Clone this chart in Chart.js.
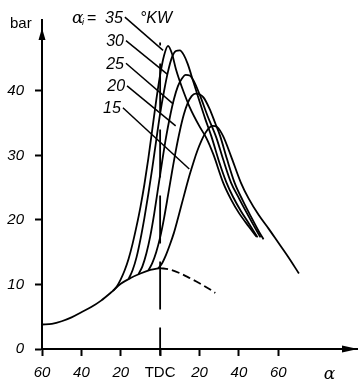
<!DOCTYPE html>
<html><head><meta charset="utf-8">
<script src="https://cdn.jsdelivr.net/npm/chart.js@4.4.1/dist/chart.umd.min.js"></script>
<style>html,body{margin:0;padding:0;background:#fff}canvas{display:block}</style>
</head><body>
<canvas id="c" width="360" height="388"></canvas>
<script>
// crank angle (deg, TDC = 0) vs cylinder pressure (bar)
const motoredSolid = [[-60,3.8],[-55,3.9],[-50,4.3],[-45,4.9],[-40,5.7],[-35,6.5],[-30,7.5],[-25,8.75],[-20,10.1],[-15,11.0],[-10,11.7],[-5,12.25],[0,12.55]];
const motoredDashed = [[0,12.55],[5,12.3],[10,11.75],[15,11.0],[20,10.2],[25,9.3],[28,8.7]];
const ign35 = [[-24,9.0],[-22,9.7],[-20,10.8],[-18,12.2],[-16,14.0],[-14,16.3],[-12,19.0],[-10,22.0],[-8,25.5],[-6,29.5],[-4,34],[-2,38.5],[0,42.5],[2,45.5],[4,47.0],[6,45.8],[8,43.4],[10,41.5],[12,39.8],[15,37.5],[20,34.5],[23.5,32.7],[27,30.2],[32,25.8],[36,23.2],[40,21.1],[45,19.0],[49,17.4]];
const ign30 = [[-16,10.85],[-14,12.2],[-12,14.2],[-10,17],[-8,20.3],[-6,24],[-4,28],[-2,32.3],[0,36.5],[2,40],[4,43],[6,45.2],[8,46.2],[10,46.3],[12,45.6],[14,44.2],[17,41.3],[20,38.4],[23,35.6],[26,33.0],[30,29],[33.7,25.8],[37,23.6],[41,21.4],[45,19.5],[49.5,17.3]];
const ign25 = [[-11,11.6],[-9,12.8],[-7,14.8],[-5,17.5],[-3,21],[-1,25],[1,29],[3,32.8],[5,36],[7,38.7],[9,40.7],[11,41.9],[13,42.5],[15,42.4],[17,41.6],[20,39.5],[24,36.2],[28.5,32.8],[32,29.4],[36,25.8],[40,23.4],[44,21.1],[48,18.9],[51,17.3]];
const ign20 = [[-6,12.15],[-4,13.3],[-2,15],[0,17.3],[2,20.3],[4,23.8],[6,27.4],[8,30.8],[10,33.8],[12,36.3],[14,38.1],[16,39.2],[18,39.6],[20,39.5],[22,39.0],[25,37.3],[28,35.0],[30.5,33.0],[34,29.4],[37.8,25.8],[42,23.0],[46,20.6],[50,18.3],[52.5,17.0]];
const ign15 = [[-1,12.5],[1,13.3],[3,14.6],[5,16.2],[7,18],[9,20.2],[11,22.5],[13,24.8],[15,27],[17,29],[19,30.8],[21,32.3],[23,33.5],[25,34.3],[26.5,34.6],[29,34.4],[32,33.0],[36,29.9],[41,25.8],[45,23.3],[50,20.8],[55,18.7],[60,16.5],[65,14.3],[70.5,11.7]];
const tdcLine = [[0,47.5],[0,-1]];
const ignitionLabels = ['35','30','25','20','15'];
const leaderStart = [[-17.9,51.45],[-17.35,47.8],[-17.35,44.3],[-16.8,40.8],[-18.9,37.4]];
const leaderEnd = [[1.5,46.3],[3.6,42.6],[6.6,38.0],[7.9,34.6],[14.8,27.9]];
const xTickValues = [-60,-40,-20,0,20,40,60,86];
const xTickLabels = ['60','40','20','TDC','20','40','60','α'];
const yTickValues = [0,10,20,30,40];

const pts = a => a.map(([x,y]) => ({x,y}));
const curve = (data, extra) => Object.assign({
  data: pts(data), borderColor:'#000', borderWidth:1.8, pointRadius:0,
  cubicInterpolationMode:'monotone', fill:false
}, extra||{});

const annot = {
  id:'annot',
  afterDatasetsDraw(chart){
    const {ctx, chartArea:a, scales:{x,y}} = chart;
    ctx.save();
    ctx.fillStyle='#000'; ctx.strokeStyle='#000';
    // axis arrows
    const y0 = y.getPixelForValue(0);
    ctx.beginPath(); ctx.moveTo(a.right+1,y0); ctx.lineTo(a.right-15,y0-3.5); ctx.lineTo(a.right-15,y0+3.5); ctx.closePath(); ctx.fill();
    ctx.beginPath(); ctx.moveTo(a.left,a.top+8); ctx.lineTo(a.left-3.5,a.top+20); ctx.lineTo(a.left+3.5,a.top+20); ctx.closePath(); ctx.fill();
    // unit
    ctx.font = '15px "Liberation Sans"'; ctx.textAlign='left'; ctx.textBaseline='middle';
    ctx.fillText('bar', a.left-32, a.top+4);
    // leaders + labels
    ctx.lineWidth = 1.5;
    ctx.font = 'italic 16px "Liberation Sans"';
    leaderStart.forEach((s,i)=>{
      const sx=x.getPixelForValue(s[0]), sy=y.getPixelForValue(s[1]);
      const ex=x.getPixelForValue(leaderEnd[i][0]), ey=y.getPixelForValue(leaderEnd[i][1]);
      ctx.beginPath(); ctx.moveTo(sx,sy); ctx.lineTo(ex,ey); ctx.stroke();
      ctx.textAlign='right';
      ctx.fillText(ignitionLabels[i], sx-2, sy+1);
    });
    const lx=x.getPixelForValue(leaderStart[0][0]), ly=y.getPixelForValue(leaderStart[0][1])+1;
    ctx.textAlign='left';
    ctx.font = 'italic 17px "DejaVu Serif"';
    ctx.fillText('α', lx-53, ly);
    ctx.font = 'italic 9px "Liberation Sans"';
    ctx.fillText('i', lx-43, ly+4);
    ctx.font = '16px "Liberation Sans"';
    ctx.fillText('=', lx-38, ly);
    ctx.font = 'italic 16px "Liberation Sans"';
    ctx.fillText('°KW', lx+15, ly);
    ctx.restore();
  }
};

new Chart(document.getElementById('c'), {
  type:'line',
  data:{datasets:[
    curve(motoredSolid),
    curve(motoredDashed,{borderDash:[8,4]}),
    curve(ign35), curve(ign30), curve(ign25), curve(ign20), curve(ign15),
    curve(tdcLine,{borderWidth:1.8, borderDash:[48,18], borderDashOffset:45, clip:false, cubicInterpolationMode:'default', tension:0})
  ]},
  options:{
    responsive:false, animation:false, devicePixelRatio:1,
    layout:{padding:{top:15,right:3,left:0,bottom:0}},
    plugins:{legend:{display:false}, tooltip:{enabled:false}},
    scales:{
      x:{type:'linear', min:-60, max:100,
        afterBuildTicks:s=>{s.ticks = xTickValues.map(v=>({value:v}));},
        afterFit:s=>{s.height=39;},
        border:{display:true,color:'#000',width:2},
        grid:{display:true, drawOnChartArea:false, drawTicks:true, tickLength:7, tickWidth:2,
          tickColor:c=> (c.tick && c.tick.value===86) ? 'rgba(0,0,0,0)' : '#000'},
        ticks:{color:'#000', padding:8, maxRotation:0, autoSkip:false,
          font:c=>{ const v=c.tick?c.tick.value:null;
            if(v===0) return {family:'"Liberation Sans Narrow", "Liberation Sans"', size:15, style:'normal'};
            if(v===86) return {family:'"DejaVu Serif"', size:17, style:'italic'};
            return {family:'"Liberation Sans"', size:15, style:'italic'}; },
          callback:(v)=>{ const i=xTickValues.indexOf(v); return i>=0?xTickLabels[i]:''; }}
      },
      y:{type:'linear', min:0, max:51,
        afterBuildTicks:s=>{s.ticks = yTickValues.map(v=>({value:v}));},
        afterFit:s=>{s.width=42;},
        border:{display:true,color:'#000',width:2},
        grid:{display:true, drawOnChartArea:false, drawTicks:true, tickLength:7, tickWidth:2, tickColor:'#000'},
        ticks:{color:'#000', padding:11, font:{family:'"Liberation Sans"', size:15, style:'italic'}}
      }
    }
  },
  plugins:[annot]
});
</script>
</body></html>
